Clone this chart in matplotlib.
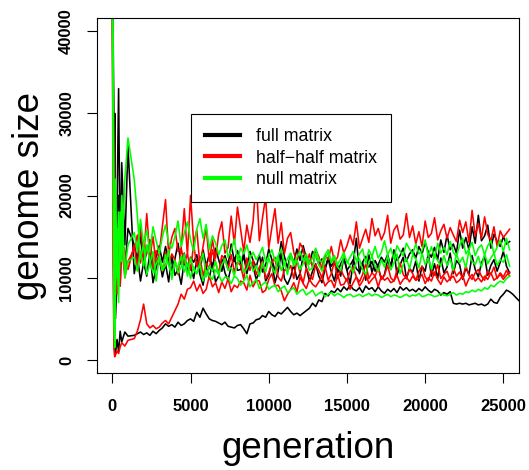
import numpy as np
import matplotlib
matplotlib.use("Agg")
import matplotlib.pyplot as plt
from matplotlib.lines import Line2D

plt.rcParams['font.family'] = ['Liberation Sans', 'DejaVu Sans']

# generations: a fine early part, then every 200 generations
gen_early = [0, 50, 100, 150, 200, 300, 400, 500, 600, 800, 1000]
gen_late = list(range(1400, 25401, 200))

# genome sizes in thousands
# full matrix (black), three runs
full_1_early = [45, 22, 4, 1.2, 0.8, 2.5, 1.0, 3.5, 2.2, 3.4, 2.9]
full_1 = [3.0, 3.2, 3.4, 3.1, 3.3, 3.0, 3.5, 3.2, 3.6, 3.9,
          4.4, 4.1, 4.3, 4.0, 4.6, 4.2, 4.4, 4.8, 5.0, 4.7,
          5.8, 5.2, 6.3, 5.6, 5.0, 4.8, 4.7, 4.5, 4.3, 4.6,
          4.1, 4.0, 3.9, 4.2, 4.3, 3.8, 3.2, 4.4, 4.5, 4.9,
          5.0, 5.4, 5.2, 5.9, 5.5, 5.3, 5.8, 5.6, 6.0, 6.4,
          5.9, 5.5, 5.7, 5.4, 5.7, 6.0, 6.3, 6.9, 6.5, 7.3,
          7.1, 8.1, 7.8, 8.4, 8.2, 8.7, 8.3, 8.9, 8.5, 9.1,
          8.6, 8.4, 8.8, 8.2, 9.0, 8.6, 8.8, 8.3, 8.9, 8.4,
          8.1, 8.6, 8.3, 8.7, 8.2, 8.9, 8.5, 8.8, 8.4, 8.6,
          8.3, 8.7, 8.4, 8.9, 8.5, 8.2, 8.6, 8.4, 7.9, 8.2,
          8.0, 8.3, 6.9, 6.8, 6.9, 6.8, 6.9, 6.7, 6.8, 6.9,
          6.7, 6.8, 6.6, 6.8, 7.4, 7.0, 6.9, 7.6, 8.0, 8.5, 8.3]
full_1_tail_gen = [25600, 25800, 26000]
full_1_tail = [8.0, 7.6, 7.2]

full_2_early = [45, 38, 15, 30, 8, 18, 33, 12, 24, 14, 26]
full_2 = [10.5, 12.8, 9.6, 11.9, 10.2, 13.1, 9.4, 11.2, 12.4, 10.1,
          11.7, 9.5, 12.6, 10.3, 11.0, 9.2, 12.1, 10.8, 11.5, 9.9,
          12.2, 10.4, 9.1, 11.3, 10.0, 11.8, 9.5, 10.2, 12.3, 10.6,
          9.7, 11.4, 12.4, 10.9, 11.0, 13.1, 10.5, 12.0, 11.4, 9.8,
          10.7, 12.5, 9.6, 10.3, 11.9, 9.4, 10.8, 13.0, 9.9, 9.2,
          10.1, 11.6, 9.8, 10.5, 12.7, 11.2, 9.6, 10.8, 11.7, 10.2,
          9.4, 11.1, 12.3, 10.7, 9.6, 11.5, 10.2, 12.6, 10.9, 9.3,
          11.8, 14.8, 10.5, 11.9, 9.7, 12.8, 10.6, 12.1, 11.3, 9.8,
          10.4, 12.2, 11.0, 13.4, 10.3, 11.6, 12.5, 9.9, 11.1, 10.7,
          12.0, 9.6, 11.4, 10.8, 12.9, 10.2, 11.7, 9.9, 12.4, 10.6,
          11.3, 13.0, 10.5, 12.1, 11.6, 9.8, 11.2, 10.4, 12.7, 11.0,
          10.1, 11.8, 12.6, 10.3, 11.5, 12.2, 10.8, 11.9, 13.2, 11.4, 10.6]

full_3_early = [45, 40, 28, 12, 5, 10, 20, 9, 15, 11, 16]
full_3 = [14.0, 12.2, 15.1, 11.5, 13.2, 14.6, 10.8, 12.6, 13.9, 11.9,
          13.8, 12.1, 10.9, 12.3, 14.2, 11.6, 13.0, 10.7, 12.5, 11.9,
          12.8, 10.6, 13.4, 11.4, 12.9, 11.1, 13.6, 12.2, 10.8, 12.7,
          11.5, 14.1, 12.0, 13.3, 11.7, 12.5, 10.9, 13.2, 12.1, 11.3,
          12.8, 10.7, 11.6, 13.5, 12.2, 10.9, 11.8, 14.4, 12.6, 11.2,
          12.9, 11.8, 13.5, 12.1, 13.9, 12.4, 11.7, 13.2, 12.8, 11.6,
          12.3, 11.0, 12.5, 11.4, 12.0, 10.6, 11.7, 12.4, 10.9, 11.5,
          12.2, 11.1, 10.7, 11.9, 12.6, 11.3, 12.0, 10.8, 11.6, 12.5,
          11.9, 12.8, 11.4, 13.3, 12.1, 12.7, 13.6, 12.0, 12.9, 13.4,
          12.4, 13.8, 12.9, 14.3, 13.1, 12.5, 13.7, 12.2, 14.6, 13.1,
          15.2, 13.4, 14.1, 13.0, 15.8, 13.6, 14.9, 13.4, 16.2, 14.2,
          17.6, 14.5, 15.1, 16.4, 13.6, 15.3, 14.4, 13.8, 15.0, 14.1, 14.4]

# half-half matrix (red)
half_1_early = [45, 12, 1.5, 0.4, 0.6, 1.1, 0.8, 1.6, 2.1, 1.7, 2.4]
half_1 = [2.6, 3.5, 4.9, 6.8, 4.4, 3.9, 4.2, 3.8, 4.0, 4.5,
          4.8, 4.4, 5.2, 6.0, 6.8, 8.0, 7.4, 8.6, 8.8, 9.6,
          8.4, 9.2, 8.1, 8.6, 10.2, 8.9, 9.4, 8.2, 9.5, 8.7,
          9.9, 8.3, 9.1, 8.8, 9.6, 9.4, 8.5, 10.3, 8.9, 9.7,
          9.6, 8.2, 8.5, 9.8, 10.5, 9.0, 9.1, 8.4, 7.2, 8.0,
          8.6, 9.4, 8.3, 10.1, 9.3, 8.7, 9.8, 9.2, 8.9, 9.5,
          10.2, 9.0, 9.5, 9.7, 8.8, 10.4, 9.1, 9.2, 9.9, 8.6,
          9.4, 10.1, 9.0, 9.6, 10.5, 9.3, 9.8, 10.2, 8.9, 10.2,
          9.7, 10.0, 9.4, 9.6, 10.3, 9.2, 9.8, 10.1, 9.5, 10.2,
          9.7, 9.9, 10.4, 9.3, 10.0, 9.6, 10.7, 9.8, 9.2, 10.1,
          9.5, 9.9, 10.2, 9.4, 9.7, 10.3, 9.0, 9.9, 10.4, 9.6,
          10.0, 9.5, 10.2, 9.8, 10.6, 9.7, 10.0, 10.4, 9.8, 10.3, 10.7]

half_2_early = [45, 35, 24, 9, 14, 11, 16, 12, 15, 13, 11]
half_2 = [14.0, 11.0, 16.5, 12.3, 17.8, 12.5, 15.0, 11.6, 13.0, 16.2,
          19.5, 12.8, 14.9, 16.0, 13.2, 13.5, 18.4, 12.7, 20.0, 14.2,
          15.8, 11.5, 13.8, 16.1, 12.0, 14.6, 12.4, 15.3, 16.8, 13.0,
          13.7, 17.5, 14.1, 18.6, 15.9, 13.2, 16.4, 14.3, 16.9, 21.8,
          14.5, 17.3, 19.8, 13.6, 16.1, 18.4, 14.2, 16.7, 12.9, 14.8,
          15.5, 13.1, 11.8, 14.2, 13.5, 11.6, 12.9, 11.2, 13.4, 12.6,
          11.0, 12.7, 12.2, 13.8, 11.9, 12.5, 14.6, 13.0, 13.9, 15.2,
          14.0, 16.8, 13.6, 14.8, 15.9, 14.3, 17.2, 15.1, 16.0, 14.6,
          15.5, 17.6, 14.2, 15.8, 16.4, 14.7, 15.2, 17.8, 14.9, 16.3,
          14.1, 15.6, 13.8, 16.9, 14.9, 15.4, 17.3, 14.6, 15.7, 16.5,
          14.8, 16.1, 15.2, 14.4, 17.0, 15.5, 16.8, 14.3, 18.2, 15.1,
          16.6, 14.8, 17.4, 15.3, 14.5, 16.2, 13.8, 15.7, 14.9, 15.4, 15.9]

half_3_early = [45, 30, 10, 5, 18, 8, 13, 9, 14, 10, 12]
half_3 = [13.5, 15.2, 11.8, 14.4, 12.9, 14.6, 11.2, 13.3, 12.4, 10.8,
          13.1, 11.6, 12.9, 12.2, 10.4, 13.6, 11.7, 12.9, 10.9, 14.1,
          11.4, 12.6, 10.2, 11.8, 11.1, 13.4, 11.8, 10.6, 12.7, 12.3,
          11.0, 12.8, 10.7, 11.9, 11.5, 9.8, 12.4, 10.9, 12.1, 10.4,
          11.3, 12.0, 9.9, 10.6, 11.8, 12.5, 10.1, 9.6, 11.0, 10.8,
          11.5, 9.9, 12.2, 10.6, 9.4, 11.2, 10.3, 9.8, 11.6, 10.9,
          10.0, 11.4, 9.7, 10.5, 12.0, 9.9, 11.0, 10.2, 9.6, 10.8,
          11.3, 10.1, 9.5, 10.4, 11.7, 9.9, 10.6, 10.2, 11.2, 9.8,
          10.3, 11.5, 10.0, 9.6, 10.9, 11.8, 10.4, 9.9, 11.1, 10.5,
          9.7, 10.8, 11.4, 10.1, 9.6, 10.9, 10.3, 11.6, 9.9, 10.4,
          10.8, 9.7, 11.2, 10.2, 10.7, 9.9, 11.5, 10.3, 9.8, 10.6,
          11.0, 10.2, 9.7, 10.8, 10.4, 11.3, 9.9, 10.6, 10.1, 10.9, 10.2]

# null matrix (green)
null_1_early = [45, 36, 14, 6, 22, 10, 18, 12, 16, 11, 14]
null_1 = [15.5, 13.2, 17.1, 14.0, 15.8, 13.1, 16.2, 14.5, 12.9, 15.0,
          16.4, 14.3, 13.6, 15.0, 16.9, 13.8, 15.4, 16.8, 14.6, 13.2,
          15.9, 17.2, 14.8, 16.5, 13.4, 15.1, 14.2, 12.8, 13.9, 14.6,
          12.5, 13.3, 14.7, 12.1, 13.6, 12.9, 14.0, 12.4, 13.1, 12.2,
          12.8, 13.7, 11.9, 12.6, 13.4, 12.0, 12.7, 13.5, 11.6, 12.3,
          13.0, 11.8, 12.5, 13.2, 12.1, 12.9, 11.7, 12.4, 13.6, 12.2,
          11.9, 12.8, 13.4, 12.0, 12.7, 11.6, 12.3, 13.1, 11.8, 12.5,
          13.2, 12.1, 12.9, 13.5, 11.7, 13.4, 12.6, 13.8, 12.4, 13.1,
          14.5, 12.8, 13.6, 12.3, 13.9, 13.2, 12.7, 14.2, 13.5, 12.9,
          14.1, 12.9, 13.3, 14.6, 12.6, 13.8, 12.4, 14.2, 13.0, 13.7,
          12.8, 14.4, 13.1, 12.6, 13.9, 14.8, 12.9, 13.5, 14.3, 12.7,
          13.6, 14.0, 12.8, 13.9, 14.5, 12.9, 13.7, 14.6, 13.2, 14.8, 13.4]

null_2_early = [45, 28, 8, 3, 11, 16, 9, 13, 20, 10, 12]
null_2 = [12.5, 10.8, 13.2, 11.4, 14.0, 12.0, 10.6, 11.7, 12.4, 10.9,
          12.8, 11.5, 10.3, 11.9, 11.2, 12.6, 10.7, 11.8, 9.9, 11.3,
          10.5, 11.6, 9.6, 10.9, 10.2, 9.8, 11.0, 10.4, 9.5, 10.1,
          10.0, 9.3, 10.2, 9.9, 9.1, 9.6, 10.3, 8.9, 9.4, 9.8,
          8.7, 9.2, 9.5, 8.6, 8.9, 9.1, 8.3, 8.7, 9.0, 8.2,
          8.5, 8.8, 8.0, 8.4, 8.6, 7.9, 8.2, 8.5, 7.8, 8.1,
          8.3, 7.7, 8.0, 8.2, 7.8, 8.1, 7.9, 7.6, 7.9, 8.0,
          7.7, 7.8, 8.0, 7.7, 7.9, 8.1, 7.8, 8.0, 7.9, 7.6,
          7.8, 8.0, 7.7, 7.9, 7.8, 7.6, 7.8, 8.0, 7.7, 7.9,
          7.8, 8.1, 7.7, 7.8, 8.0, 7.9, 7.7, 7.8, 8.1, 7.9,
          7.8, 8.0, 8.2, 7.9, 8.1, 8.0, 8.3, 8.2, 8.5, 8.3,
          8.6, 8.4, 8.8, 8.6, 9.1, 8.9, 9.3, 9.6, 9.4, 9.9, 10.2]

null_3_early = [45, 36, 5, 1.5, 9, 14, 7, 18, 12, 22, 27]
null_3 = [22.0, 17.5, 12.3, 14.1, 10.4, 11.8, 13.2, 9.6, 12.6, 10.9,
          11.5, 13.4, 9.8, 12.1, 10.6, 11.3, 12.9, 10.2, 12.4, 11.0,
          10.5, 11.8, 13.0, 10.1, 11.4, 10.8, 12.0, 10.4, 11.6, 12.3,
          10.9, 11.2, 10.3, 11.7, 12.6, 10.6, 11.1, 12.2, 10.8, 11.5,
          10.2, 11.9, 10.7, 12.4, 11.3, 10.5, 12.5, 10.9, 11.8, 10.4,
          12.8, 11.4, 12.1, 11.0, 11.7, 12.4, 10.9, 11.2, 12.9, 11.6,
          10.8, 12.2, 13.1, 11.8, 12.5, 11.3, 10.9, 12.7, 12.0, 11.5,
          10.6, 11.9, 12.3, 11.0, 10.4, 11.9, 12.6, 11.4, 10.8, 12.2,
          11.3, 12.7, 11.0, 11.8, 12.9, 10.5, 11.6, 12.4, 11.1, 12.8,
          12.3, 11.2, 13.0, 11.6, 12.4, 11.0, 12.8, 12.1, 11.4, 12.7,
          11.5, 12.3, 10.9, 12.9, 11.8, 12.5, 11.2, 13.3, 12.0, 11.6,
          12.6, 11.3, 12.9, 11.7, 12.4, 13.0, 11.5, 12.2, 11.9, 12.8, 11.4]

labels = ["full matrix", "half\u2212half matrix", "null matrix"]
colors = ["black", "#FF0000", "#00FF00"]
groups = [[(full_1_early, full_1), (full_2_early, full_2), (full_3_early, full_3)],
          [(half_1_early, half_1), (half_2_early, half_2), (half_3_early, half_3)],
          [(null_1_early, null_1), (null_2_early, null_2), (null_3_early, null_3)]]

fig = plt.figure(figsize=(5.29, 4.70), dpi=100)
ax = fig.add_axes([0.1828, 0.207, 0.7983, 0.754])

gens = np.array(gen_early + gen_late)
for runs, col in zip(groups, colors):
    for early, late in runs:
        x = gens
        y = np.array(early + late) * 1000
        if late is full_1:
            x = np.concatenate([gens, full_1_tail_gen])
            y = np.array(early + late + full_1_tail) * 1000
        ax.plot(x, y, color=col, lw=1.15)

ax.set_xlim(-1000, 26000)
ax.set_ylim(-1544, 41544)
ax.set_xticks([0, 5000, 10000, 15000, 20000, 25000])
ax.set_yticks([0, 10000, 20000, 30000, 40000])
ax.tick_params(axis='both', length=7.2, width=0.8, labelsize=12)
ax.tick_params(axis='x', pad=12)
ax.tick_params(axis='y', pad=9)
for lab in ax.get_xticklabels():
    lab.set_fontweight('bold')
for lab in ax.get_yticklabels():
    lab.set_fontweight('bold')
    lab.set_rotation(90)
    lab.set_va('center')
for sp in ax.spines.values():
    sp.set_linewidth(0.8)

ax.set_xlabel("generation", fontsize=26.5, va='center')
ax.xaxis.set_label_coords(0.5, -0.2125)
ax.set_ylabel("genome size", fontsize=26.5, va='center')
ax.yaxis.set_label_coords(-0.160, 0.5)

handles = [Line2D([], [], color=c, lw=3) for c in colors]
leg = ax.legend(handles, labels, loc='upper left', bbox_to_anchor=(0.2226, 0.730),
                borderaxespad=0, fontsize=12.8, handlelength=2.0, handletextpad=0.85,
                labelspacing=0.25, borderpad=0.8, fancybox=False, framealpha=1,
                edgecolor='black')
leg.get_frame().set_linewidth(0.8)

fig.savefig("out.png", dpi=100)
